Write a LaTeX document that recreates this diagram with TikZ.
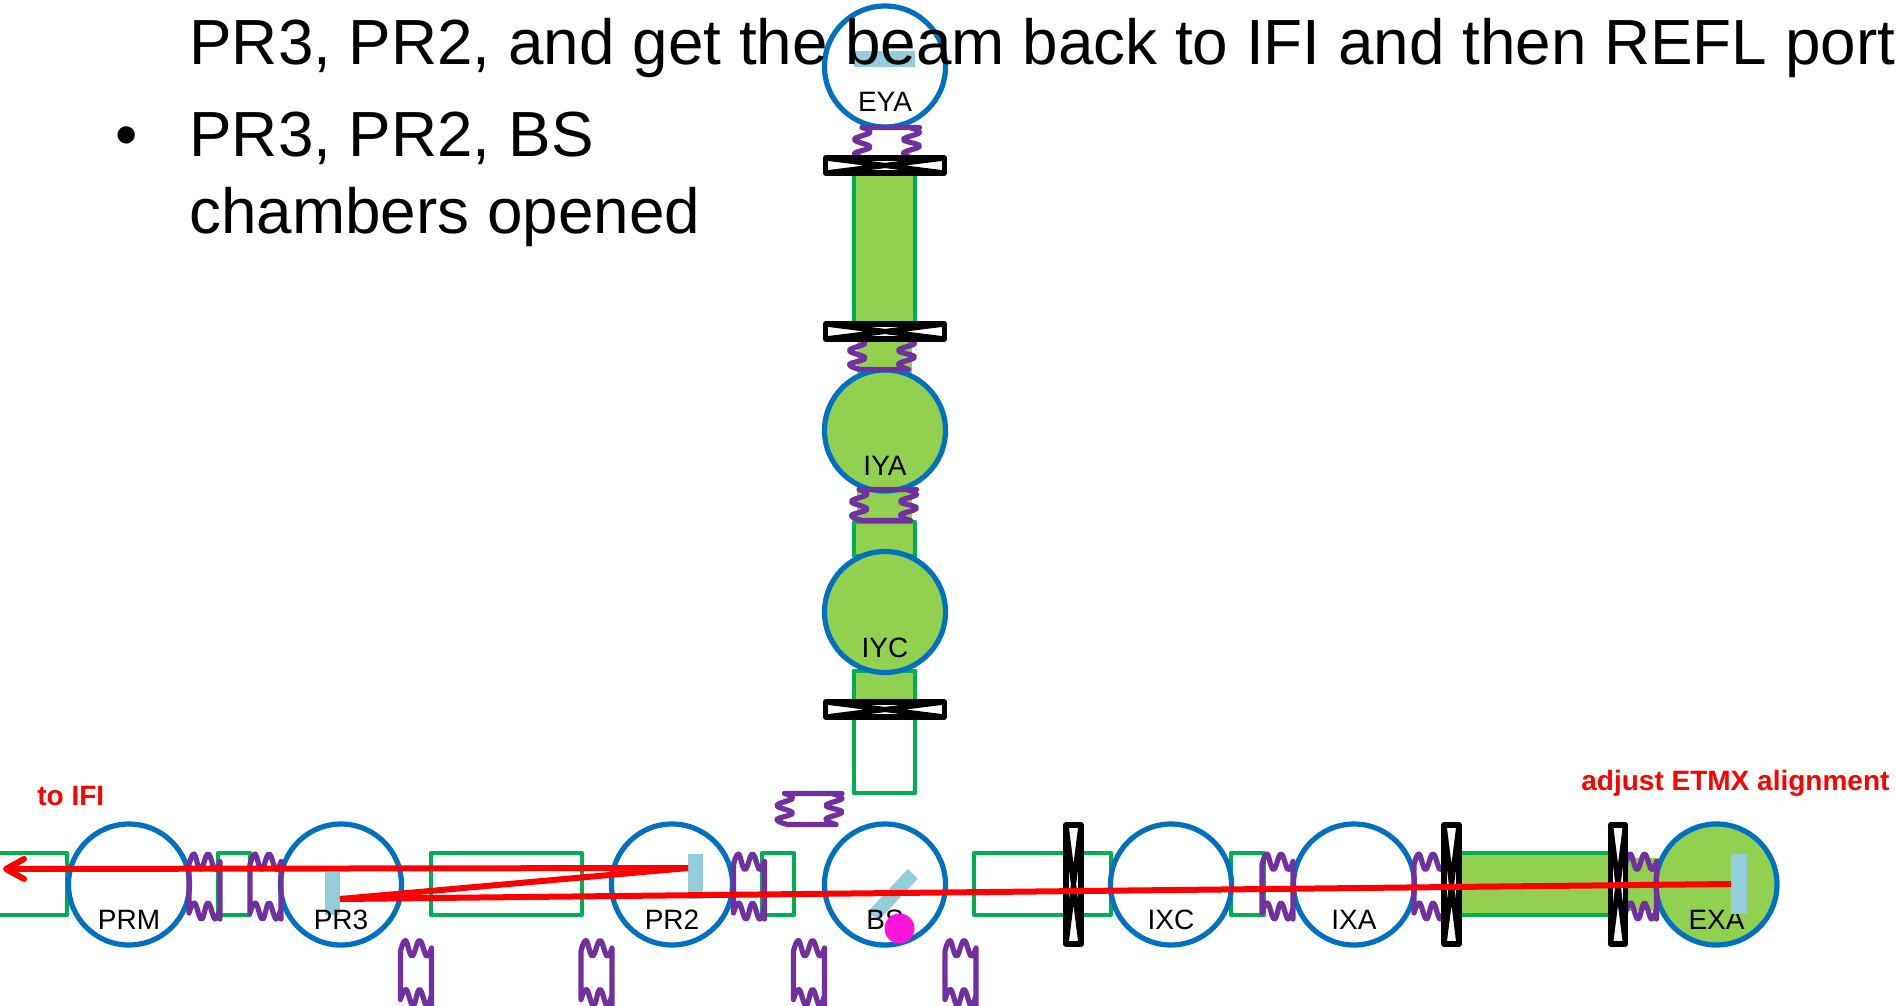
\documentclass[tikz,border=0pt]{standalone}
\usepackage{fontspec}
\setmainfont{Liberation Sans}
\usepackage{xcolor}
\usetikzlibrary{arrows.meta}
\definecolor{chamberblue}{HTML}{0070C0}
\definecolor{tubegreen}{HTML}{00B050}
\definecolor{vacuumgreen}{HTML}{92D050}
\definecolor{bellowspurple}{HTML}{7030A0}
\definecolor{mirrorblue}{HTML}{92CDDC}
\definecolor{dotmagenta}{HTML}{FF14DC}
\tikzset{
    x=0.5pt,
    y=-0.5pt,
    chamber/.style={circle,draw=chamberblue,line width=2.6pt,fill=white,inner sep=0pt,minimum size=60.5pt},
    vented/.style={chamber,fill=vacuumgreen},
    chamber name/.style={anchor=base,inner sep=0pt,yshift=-22.5pt,font=\fontsize{14}{16}\selectfont},
    tube/.style={draw=tubegreen,line width=2.3pt,line join=round},
    vented tube/.style={tube,fill=vacuumgreen},
    vented gap/.style={fill=vacuumgreen},
    mirror/.style={fill=mirrorblue},
    beam/.style={draw=red,line width=3pt},
    slide text/.style={anchor=base west,inner sep=0pt,font=\fontsize{31.9}{36}\selectfont},
    red note/.style={anchor=base west,inner sep=0pt,text=red,font=\bfseries\fontsize{14}{16}\selectfont},
    bellows/.pic={
        \draw[bellowspurple,line width=2.6pt,line join=round,line cap=round]
            plot[smooth,tension=.7] coordinates {(-15.5,-22) (-10.5,-32.5) (-4,-17) (3.5,-32.5) (10.5,-17) (15.5,-25)}
            plot[smooth,tension=.7] coordinates {(-15.5,26.5) (-10,16.5) (-3,32.5) (3.5,16.5) (10.5,32.5) (15.5,22)}
            (-15.5,-22) -- (-15.5,26.5)
            (15.5,-25) -- (15.5,32.5);
    },
    valve/.pic={
        \draw[black,fill=white,line width=2.6pt,line join=round]
            (-7.5,-59.5) rectangle (7.5,59.5);
        \draw[black,line width=2.6pt,line join=round]
            (-7.5,-59.5) -- (7.5,59.5) (7.5,-59.5) -- (-7.5,59.5);
    }
}
\begin{document}
\begin{tikzpicture}
    \useasboundingbox (0,0) rectangle (1897,1006);
    \clip (0,0) rectangle (1897,1006);
    % x arm tubes
    \draw[tube] (-10,853) rectangle (67,915);
    \draw[tube] (218,853) rectangle (250,915);
    \draw[tube] (431,853) rectangle (582,915);
    \draw[tube] (762,853) rectangle (794,915);
    \draw[tube] (974,853) rectangle (1111,915);
    \draw[tube] (1231,853) rectangle (1264,915);
    \draw[vented tube] (1450,853) rectangle (1615,915);
    \fill[vented gap] (1615,858) rectangle (1665,911);
    % y arm tubes
    \draw[vented tube] (854,170) rectangle (915,326);
    \fill[vented gap] (857,335) rectangle (912,378);
    \fill[vented gap] (857,485) rectangle (912,525);
    \draw[vented tube] (854,522) rectangle (915,556);
    \draw[tube] (854,671) rectangle (915,793);
    \draw[vented tube] (854,671) rectangle (915,705);
    % chambers
    \node[chamber] (prm) at (129,884.5) {};
    \node[chamber] (pr3) at (341,884.5) {};
    \node[chamber] (pr2) at (672,884.5) {};
    \node[chamber] (bs) at (885,884.5) {};
    \node[chamber] (ixc) at (1171,884.5) {};
    \node[chamber] (ixa) at (1354,884.5) {};
    \node[vented] (exa) at (1716.5,884.5) {};
    \node[chamber] (eya) at (885,66.5) {};
    \node[vented] (iya) at (885,430.5) {};
    \node[vented] (iyc) at (885,612) {};
    % optics
    \fill[mirror] (325,872) rectangle (340,915);
    \fill[mirror] (688,854) rectangle (703,899);
    \fill[mirror] (854,51) rectangle (915,67);
    \fill[mirror,rotate around={47:(893,895)}] (864,888) rectangle (922,902);
    % names
    \node[chamber name] (prmname) at (prm) {PRM};
    \node[chamber name] (pr3name) at (pr3) {PR3};
    \node[chamber name] (pr2name) at (pr2) {PR2};
    \node[chamber name] (bsname) at (bs) {BS};
    \node[chamber name] (ixcname) at (ixc) {IXC};
    \node[chamber name] (ixaname) at (ixa) {IXA};
    \node[chamber name] (exaname) at (exa) {EXA};
    \node[chamber name] (eyaname) at (eya) {EYA};
    \node[chamber name] (iyaname) at (iya) {IYA};
    \node[chamber name] (iycname) at (iyc) {IYC};
    \fill[mirror] (1731,854) rectangle (1747,914);
    \fill[dotmagenta] (899.5,928.5) circle [radius=15];
    % bellows along the beam
    \pic at (204.5,886.5) {bellows};
    \pic at (265.5,886.5) {bellows};
    \pic at (749,886.5) {bellows};
    \pic at (1277.5,886.5) {bellows};
    \pic at (1429.5,886.5) {bellows};
    \pic at (1641,886.5) {bellows};
    % spare bellows
    \pic at (416,973) {bellows};
    \pic at (596.5,973) {bellows};
    \pic at (809,973) {bellows};
    \pic at (960.5,973) {bellows};
    \pic[rotate=90] at (809.5,809) {bellows};
    % y arm bellows
    \pic[rotate=90] at (887,143) {bellows};
    \pic[rotate=90] at (882,354) {bellows};
    \pic[rotate=90] at (884,505) {bellows};
    % gate valves
    \pic at (1073.5,884.5) {valve};
    \pic at (1451.5,884.5) {valve};
    \pic at (1618,884.5) {valve};
    \pic[rotate=90] at (885,165.5) {valve};
    \pic[rotate=90] at (885,331.5) {valve};
    \pic[rotate=90] at (885,709.5) {valve};
    % beam
    \coordinate (pr3spot) at (340,899);
    \coordinate (pr2spot) at (688,868);
    \coordinate (exaspot) at (1731,884);
    \coordinate (ifi) at (3,869);
    \draw[beam] (pr3spot) -- (exaspot);
    \draw[beam] (pr3spot) -- (pr2spot);
    \draw[beam,-{Straight Barb[length=9pt,width=10pt,round]}] (pr2spot) -- (ifi);
    % slide text
    \node[slide text] (line1) at (189,64.5) {PR3, PR2, and get the beam back to IFI and then REFL port};
    \node[slide text] (dot) at (115,157) {•};
    \node[slide text] (line2) at (189,157) {PR3, PR2, BS};
    \node[slide text] (line3) at (189,234) {chambers opened};
    \node[red note] (toifi) at (37,805) {to IFI};
    \node[red note] (etmx) at (1581,790) {adjust ETMX alignment};
\end{tikzpicture}
\end{document}
